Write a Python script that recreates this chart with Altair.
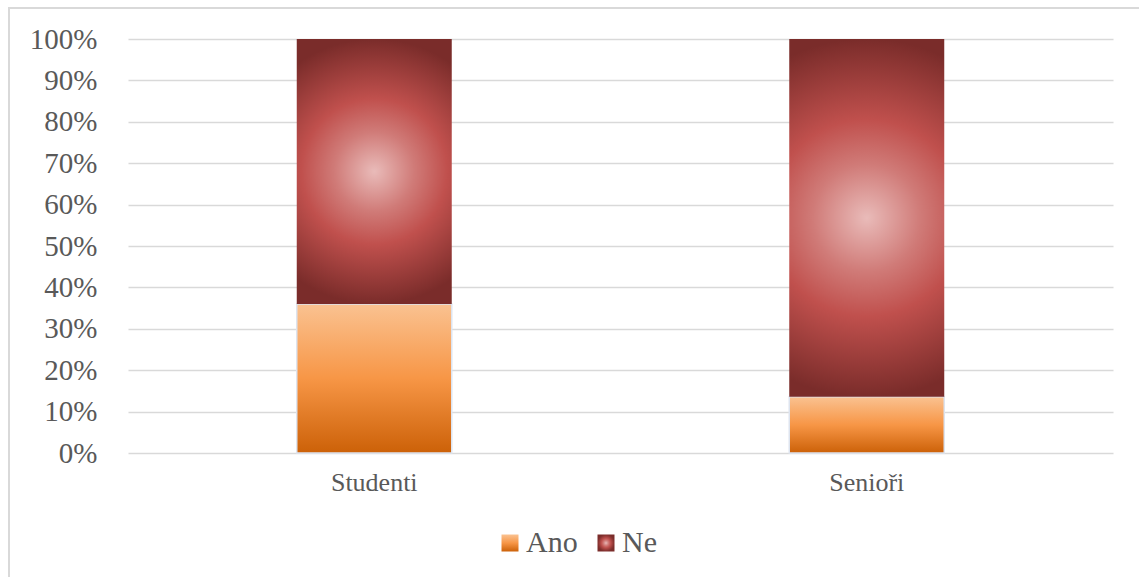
import altair as alt
import pandas as pd

# Share of answers per group (fractions of 1)
groups = ["Studenti", "Senioři"]
series = ["Ano", "Ne"]
ano_share = [0.36, 0.136]
ne_share = [0.64, 0.864]
y_ticks = [i / 10 for i in range(11)]

rows = []
for g, a, n in zip(groups, ano_share, ne_share):
    rows.append({"group": g, "series": "Ano", "share": a, "ord": 0})
    rows.append({"group": g, "series": "Ne", "share": n, "ord": 1})
df = pd.DataFrame(rows)


def stops_expr(stops):
    return "[" + ", ".join(f"{{offset: {o}, color: '{c}'}}" for o, c in stops) + "]"


# Vertical orange ramp for "Ano", radial red glow for "Ne"
ano_fill = (
    "{gradient: 'linear', x1: 0, y1: 0, x2: 0, y2: 1, stops: "
    + stops_expr([(0, "#fac291"), (0.5, "#f79646"), (1, "#cc6108")])
    + "}"
)
ne_fill = (
    "{gradient: 'radial', x1: 0.5, y1: 0.5, r1: 0, x2: 0.5, y2: 0.5, r2: 0.5, stops: "
    + stops_expr([(0, "#e9bbb9"), (0.3, "#d07b78"), (0.55, "#c0504d"), (1, "#7a2c2a")])
    + "}"
)

FONT = "Liberation Serif"
TEXT = "#595959"
GRID = "#d9d9d9"

bars = (
    alt.Chart(df)
    .mark_bar(width=155)
    .encode(
        x=alt.X(
            "group:N",
            sort=groups,
            scale=alt.Scale(paddingInner=0, paddingOuter=0),
            axis=alt.Axis(
                title=None,
                labelAngle=0,
                domain=False,
                ticks=False,
                grid=False,
                labelFont=FONT,
                labelFontSize=26,
                labelColor=TEXT,
                labelPadding=16,
            ),
        ),
        y=alt.Y(
            "share:Q",
            stack="zero",
            scale=alt.Scale(domain=[0, 1], nice=False),
            axis=alt.Axis(
                title=None,
                values=y_ticks,
                format=".0%",
                domain=False,
                ticks=False,
                grid=True,
                gridColor=GRID,
                gridWidth=1.6,
                labelFont=FONT,
                labelFontSize=29,
                labelColor=TEXT,
                labelPadding=31,
            ),
        ),
        color=alt.Color(
            "series:N",
            scale=alt.Scale(domain=series, range=[alt.ExprRef(ano_fill), alt.ExprRef(ne_fill)]),
            legend=alt.Legend(
                title=None,
                orient="none",
                direction="horizontal",
                legendX=367,
                legendY=489,
                symbolType="square",
                symbolSize=289,
                symbolStrokeWidth=0,
                labelFont=FONT,
                labelFontSize=30,
                labelColor=TEXT,
                labelOffset=1,
                columnPadding=13,
            ),
        ),
        order=alt.Order("ord:Q", sort="ascending"),
        stroke=alt.when(alt.datum.series == "Ano")
        .then(alt.value("#dde4ef"))
        .otherwise(alt.value("transparent")),
        strokeWidth=alt.value(1.5),
    )
)

# Light outer frame around the whole chart
frame = (
    alt.Chart(pd.DataFrame({"frame": [0]}))
    .mark_rect(fill="transparent", stroke=GRID, strokeWidth=2)
    .encode(
        x=alt.value(9 - 128),
        x2=alt.value(1200),
        y=alt.value(8 - 39),
        y2=alt.value(700),
    )
)

chart = (
    alt.layer(frame, bars)
    .properties(
        width=985,
        height=414,
        autosize=alt.AutoSizeParams(type="none"),
        padding={"left": 128, "top": 39, "right": 26, "bottom": 124},
        background="white",
    )
    .configure_view(stroke=None)
)

chart.save("out.html", embed_options={"renderer": "svg", "actions": False})
